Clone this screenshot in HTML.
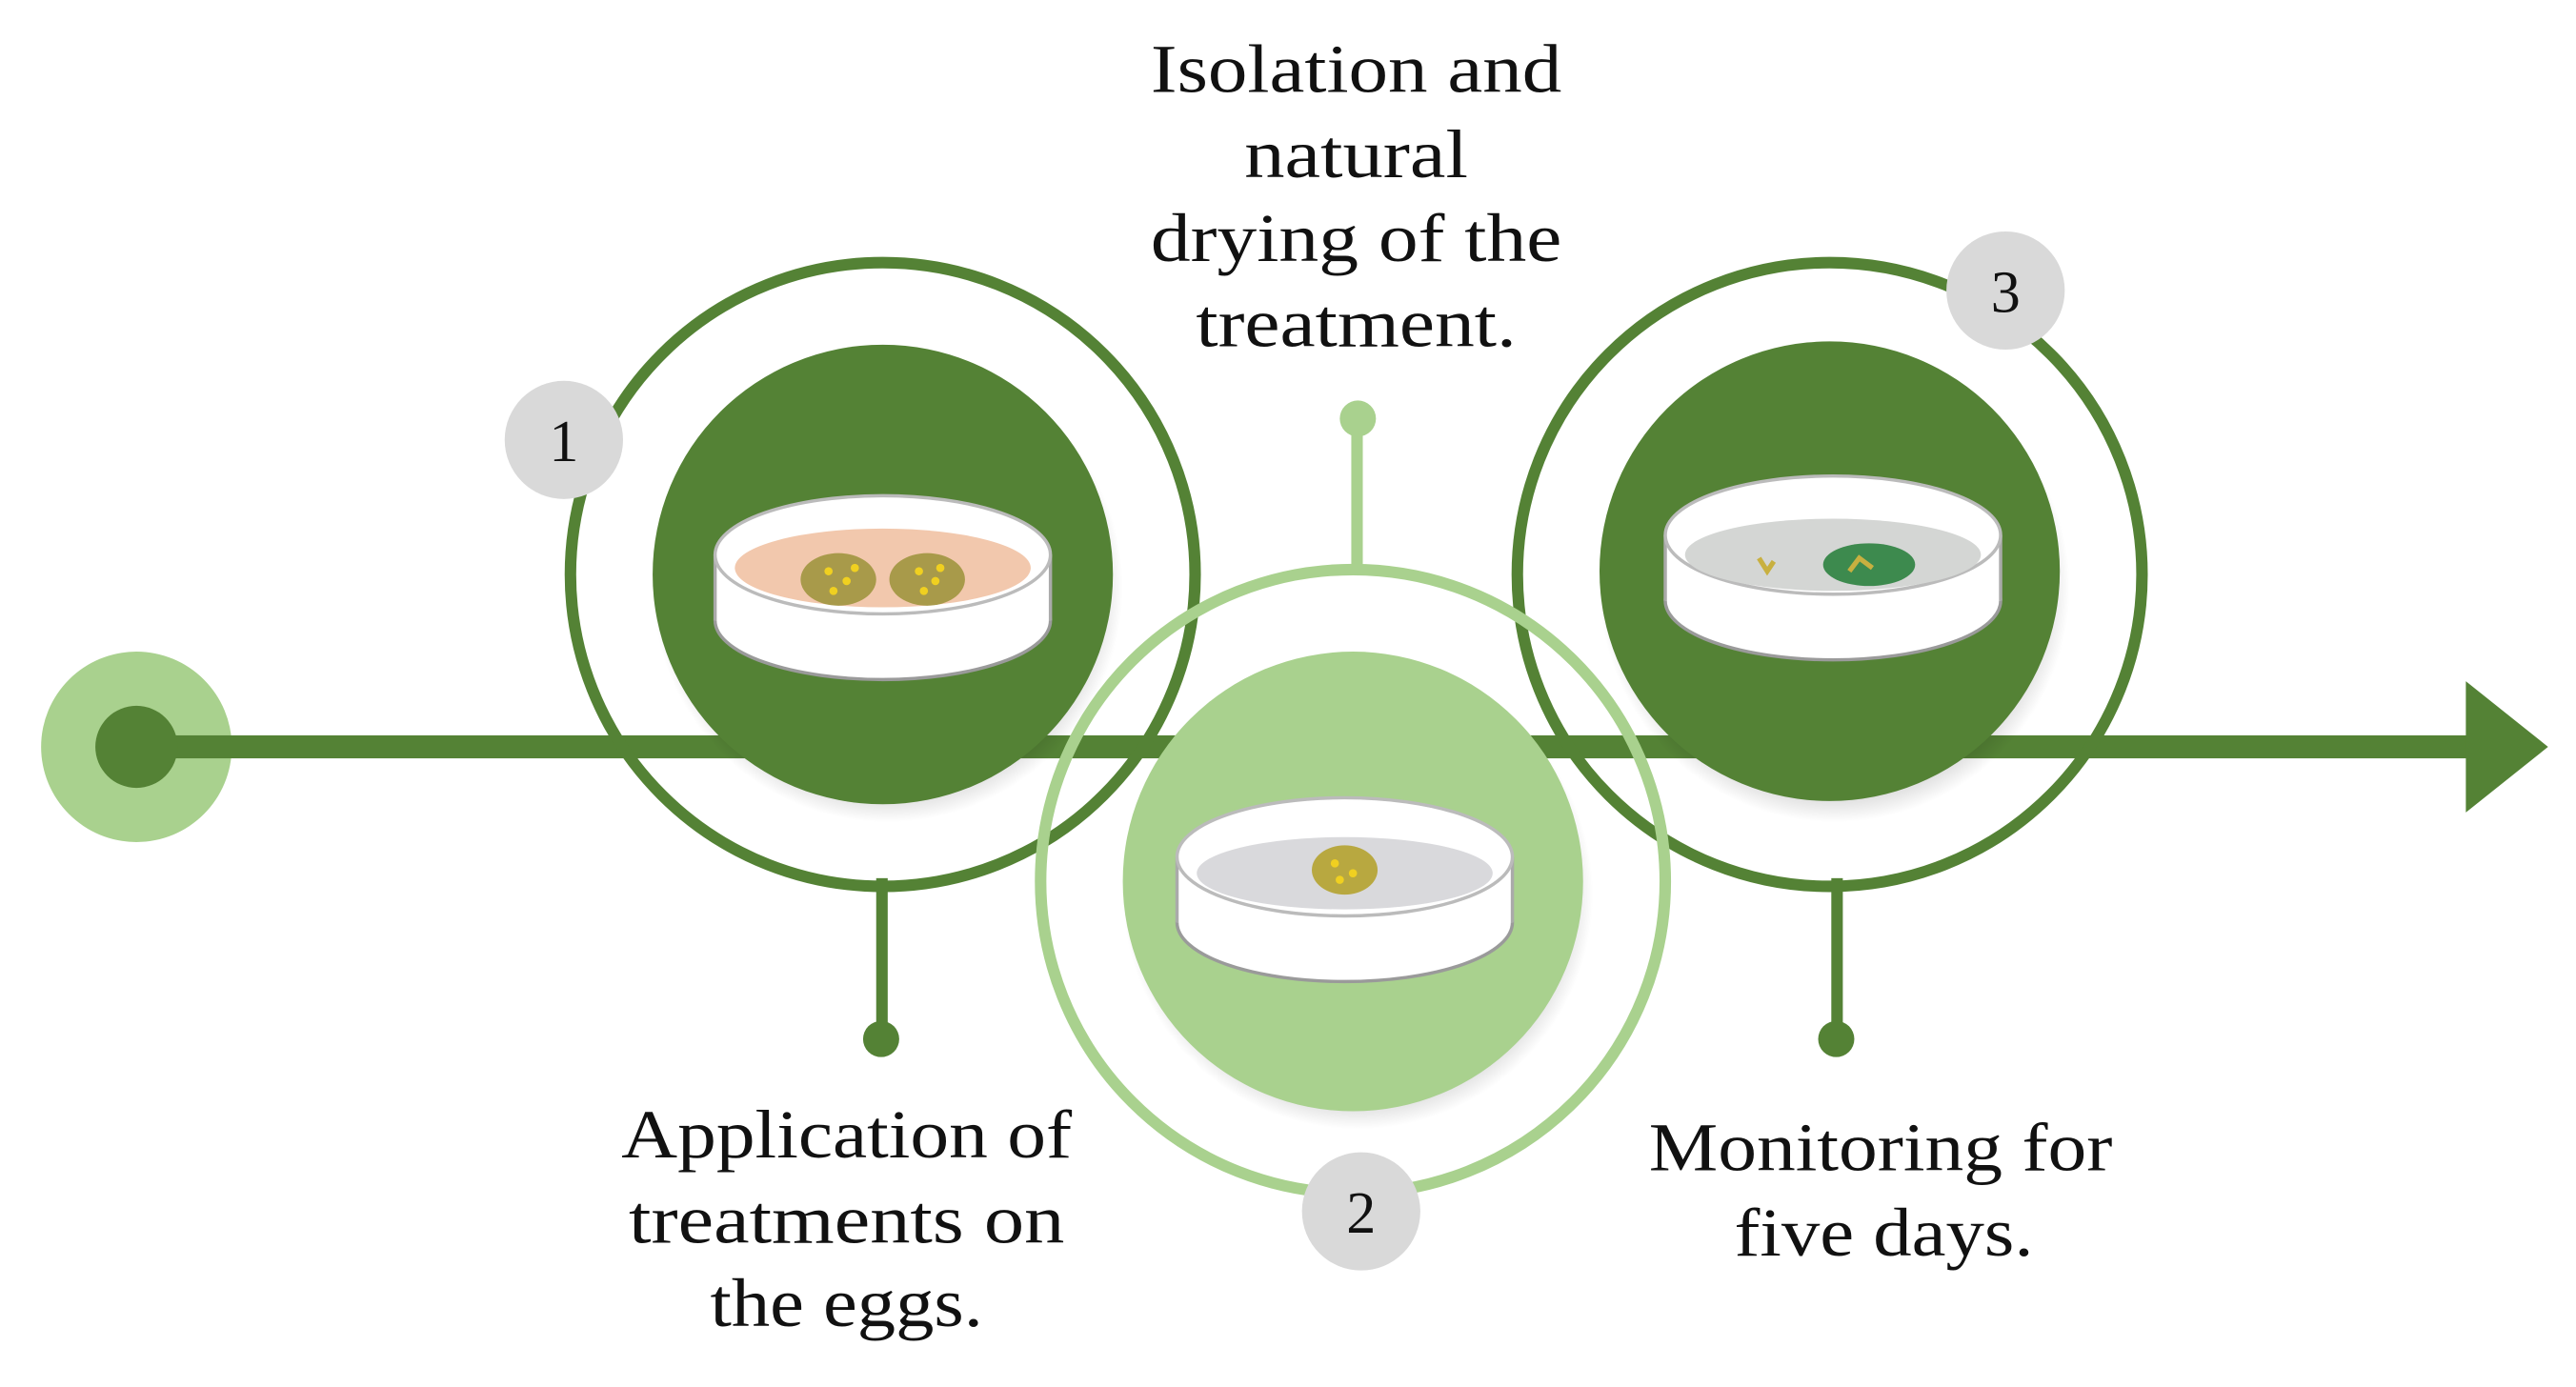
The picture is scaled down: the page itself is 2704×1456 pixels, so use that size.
<!DOCTYPE html>
<html><head><meta charset="utf-8"><style>
html,body{margin:0;padding:0;background:#fff;}
svg{display:block;}
text{font-family:"Liberation Serif",serif;fill:#111;}
</style></head><body>
<svg width="2704" height="1456" viewBox="0 0 1567 845" preserveAspectRatio="none" xmlns="http://www.w3.org/2000/svg">
<defs>
<radialGradient id="sh" cx="0.5" cy="0.5" r="0.5"><stop offset="0.8" stop-color="#000" stop-opacity="0.25"/><stop offset="1" stop-color="#000" stop-opacity="0"/></radialGradient>
<g id="dish">
  <ellipse cx="0" cy="40" rx="102" ry="36" fill="#fff" stroke="#9a9a9a" stroke-width="2"/>
  <rect x="-102" y="0" width="204" height="40" fill="#fff"/>
  <line x1="-102" y1="0" x2="-102" y2="40" stroke="#aaa" stroke-width="2"/>
  <line x1="102" y1="0" x2="102" y2="40" stroke="#aaa" stroke-width="2"/>
  <ellipse cx="0" cy="0" rx="102" ry="36" fill="#fff" stroke="#bbb" stroke-width="2"/>
</g>
</defs>
<circle cx="83" cy="455" r="58" fill="#a9d18e"/>
<rect x="83" y="448" width="1425" height="14" fill="#548235"/>
<polygon points="1500,415 1550,455 1500,495" fill="#548235"/>
<circle cx="83" cy="455" r="25" fill="#548235"/>
<rect x="533" y="535" width="7" height="98" fill="#548235"/>
<circle cx="536" cy="633" r="11" fill="#548235"/>
<rect x="1114" y="535" width="7" height="98" fill="#548235"/>
<circle cx="1117" cy="633" r="11" fill="#548235"/>
<rect x="822" y="255" width="7" height="95" fill="#a9d18e"/>
<circle cx="826" cy="255" r="11" fill="#a9d18e"/>
<circle cx="537" cy="350" r="190" fill="none" stroke="#548235" stroke-width="7"/>
<circle cx="540" cy="358" r="143" fill="url(#sh)"/>
<circle cx="537" cy="350" r="140" fill="#548235"/>
<circle cx="1113" cy="350" r="190" fill="none" stroke="#548235" stroke-width="7"/>
<circle cx="1116" cy="358" r="143" fill="url(#sh)"/>
<circle cx="1113" cy="348" r="140" fill="#548235"/>
<circle cx="823" cy="537" r="190" fill="none" stroke="#a9d18e" stroke-width="7"/>
<circle cx="826" cy="545" r="143" fill="url(#sh)"/>
<circle cx="823" cy="537" r="140" fill="#a9d18e"/>
<g transform="translate(537,338)"><use href="#dish"/>
  <ellipse cx="0" cy="8" rx="90" ry="24" fill="#f2c8ad"/>
  <ellipse cx="-27" cy="15" rx="23" ry="16" fill="#a89a4a"/>
  <ellipse cx="27" cy="15" rx="23" ry="16" fill="#a89a4a"/>
  <g fill="#f0d020"><circle cx="-33" cy="10" r="2.5"/><circle cx="-22" cy="16" r="2.5"/><circle cx="-30" cy="22" r="2.5"/><circle cx="-17" cy="8" r="2.5"/><circle cx="22" cy="10" r="2.5"/><circle cx="32" cy="16" r="2.5"/><circle cx="25" cy="22" r="2.5"/><circle cx="35" cy="8" r="2.5"/></g>
</g>
<g transform="translate(818,522)"><use href="#dish"/>
  <ellipse cx="0" cy="10" rx="90" ry="22" fill="#d9d9dc"/>
  <ellipse cx="0" cy="8" rx="20" ry="15" fill="#b8a840"/>
  <g fill="#f0d020"><circle cx="-6" cy="4" r="2.5"/><circle cx="5" cy="10" r="2.5"/><circle cx="-3" cy="14" r="2.5"/></g>
</g>
<g transform="translate(1115,326)"><use href="#dish"/>
  <ellipse cx="0" cy="12" rx="90" ry="22" fill="#d4d6d4"/>
  <ellipse cx="22" cy="18" rx="28" ry="13" fill="#3d8a4e"/>
  <path d="M-45,14 l5,8 l4,-6 M10,22 l6,-8 l8,6" stroke="#c8b040" stroke-width="3" fill="none"/>
</g>
<circle cx="343" cy="268" r="36" fill="#d9d9d9"/>
<text x="343" y="281" font-size="36" text-anchor="middle">1</text>
<circle cx="828" cy="738" r="36" fill="#d9d9d9"/>
<text x="828" y="751" font-size="36" text-anchor="middle">2</text>
<circle cx="1220" cy="177" r="36" fill="#d9d9d9"/>
<text x="1220" y="190" font-size="36" text-anchor="middle">3</text>
<g font-size="42" text-anchor="middle" lengthAdjust="spacingAndGlyphs">
<text x="825" y="56" textLength="250" lengthAdjust="spacingAndGlyphs">Isolation and</text>
<text x="825" y="108" textLength="136" lengthAdjust="spacingAndGlyphs">natural</text>
<text x="825" y="159" textLength="250" lengthAdjust="spacingAndGlyphs">drying of the</text>
<text x="825" y="211" textLength="195" lengthAdjust="spacingAndGlyphs">treatment.</text>
<text x="515" y="705" textLength="274" lengthAdjust="spacingAndGlyphs">Application of</text>
<text x="515" y="757" textLength="265" lengthAdjust="spacingAndGlyphs">treatments on</text>
<text x="515" y="808" textLength="166" lengthAdjust="spacingAndGlyphs">the eggs.</text>
<text x="1144" y="713" textLength="282" lengthAdjust="spacingAndGlyphs">Monitoring for</text>
<text x="1146" y="765" textLength="182" lengthAdjust="spacingAndGlyphs">five days.</text>
</g>
</svg>
</body></html>
